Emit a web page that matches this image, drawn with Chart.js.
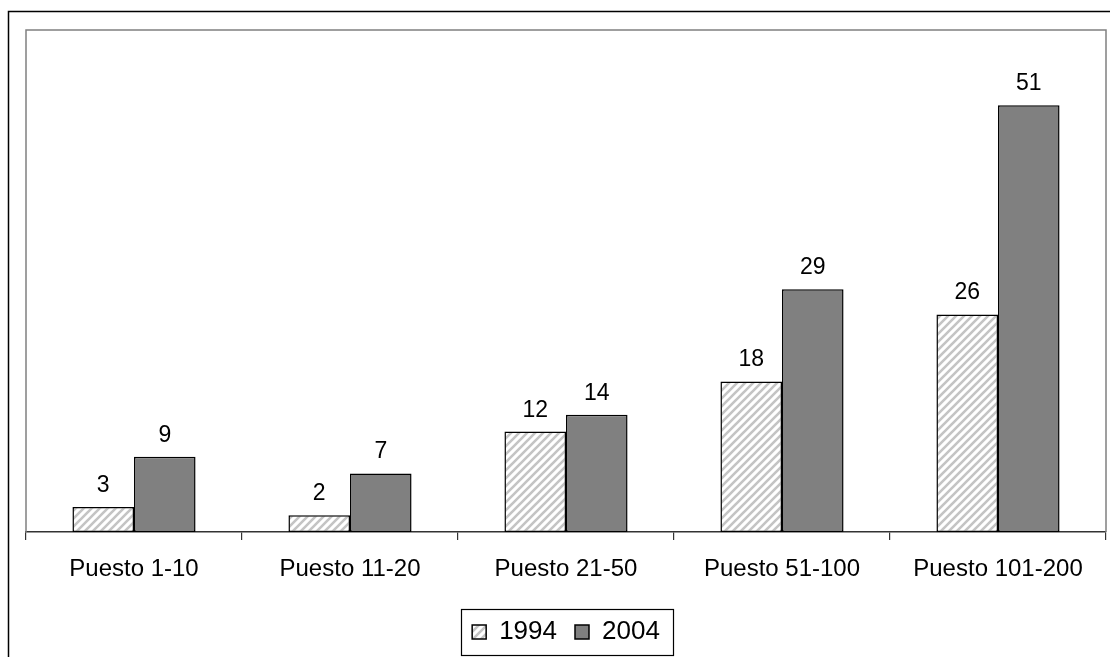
<!DOCTYPE html>
<html>
<head>
<meta charset="utf-8">
<script src="https://cdn.jsdelivr.net/npm/chart.js@4/dist/chart.umd.min.js"></script>
<style>
  html, body { margin: 0; padding: 0; background: #fff; }
  #c { display: block; }
</style>
</head>
<body>
<canvas id="c" width="1110" height="657"></canvas>
<script>
// --- datos ---
const categorias = ['Puesto 1-10', 'Puesto 11-20', 'Puesto 21-50', 'Puesto 51-100', 'Puesto 101-200'];
const valores1994 = [3, 2, 12, 18, 26];
const valores2004 = [9, 7, 14, 29, 51];
const series = ['1994', '2004'];
const yMax = 60;

// trama rayada para la serie 1994
function hatchPattern() {
    const tile = document.createElement('canvas');
    tile.width = 8;
    tile.height = 8;
    const t = tile.getContext('2d');
    t.fillStyle = '#ffffff';
    t.fillRect(0, 0, 8, 8);
    t.strokeStyle = '#c4c4c4';
    t.lineWidth = 2.6;
    t.beginPath();
    t.moveTo(-2, 10); t.lineTo(10, -2);
    t.moveTo(-6, 6); t.lineTo(6, -6);
    t.moveTo(2, 14); t.lineTo(14, 2);
    t.stroke();
    return t.createPattern(tile, 'repeat');
}

// marcos, etiquetas de valor y recuadro de la leyenda
const decoPlugin = {
    id: 'deco',
    beforeDraw(chart) {
        const ctx = chart.ctx;
        ctx.save();
        ctx.fillStyle = '#fff';
        ctx.fillRect(0, 0, chart.width, chart.height);
        ctx.restore();
    },
    afterDraw(chart) {
        const ctx = chart.ctx;
        const a = chart.chartArea;
        ctx.save();

        // marco exterior
        ctx.strokeStyle = '#000';
        ctx.lineWidth = 1.5;
        ctx.beginPath();
        ctx.moveTo(8.5, chart.height);
        ctx.lineTo(8.5, 11.5);
        ctx.lineTo(chart.width, 11.5);
        ctx.stroke();

        // borde del area de trazado
        ctx.strokeStyle = '#808080';
        ctx.lineWidth = 1.5;
        ctx.beginPath();
        ctx.moveTo(a.left, a.bottom);
        ctx.lineTo(a.left, a.top);
        ctx.lineTo(a.right, a.top);
        ctx.lineTo(a.right, a.bottom);
        ctx.stroke();

        // valores encima de las barras
        ctx.fillStyle = '#000';
        ctx.font = '23px Arial, "Liberation Sans", sans-serif';
        ctx.textAlign = 'center';
        ctx.textBaseline = 'alphabetic';
        chart.data.datasets.forEach((ds, i) => {
            chart.getDatasetMeta(i).data.forEach((bar, j) => {
                ctx.fillText(String(ds.data[j]), bar.x, bar.y - 15);
            });
        });

        // recuadro de la leyenda
        const lg = chart.legend;
        if (lg && lg.legendHitBoxes && lg.legendHitBoxes.length) {
            const hb = lg.legendHitBoxes;
            const first = hb[0];
            const last = hb[hb.length - 1];
            const cy = first.top + first.height / 2;
            const x0 = Math.round(first.left - 11) + 0.5;
            const x1 = Math.round(last.left + last.width + 13) + 0.5;
            ctx.strokeStyle = '#000';
            ctx.lineWidth = 1.2;
            ctx.strokeRect(x0, Math.round(cy - 23) + 0.5, x1 - x0, 46);
        }
        ctx.restore();
    }
};

const ctx = document.getElementById('c');
new Chart(ctx, {
    type: 'bar',
    data: {
        labels: categorias,
        datasets: [{
            label: series[0],
            data: valores1994,
            backgroundColor: hatchPattern(),
            borderColor: '#000',
            borderWidth: 1.5,
            borderSkipped: false
        }, {
            label: series[1],
            data: valores2004,
            backgroundColor: '#808080',
            borderColor: '#000',
            borderWidth: 1.5,
            borderSkipped: false
        }]
    },
    options: {
        responsive: false,
        animation: false,
        devicePixelRatio: 1,
        layout: { padding: { left: 26, right: 4, top: 30, bottom: 2 } },
        datasets: { bar: { categoryPercentage: 0.57, barPercentage: 1 } },
        scales: {
            x: {
                grid: {
                    display: true,
                    offset: true,
                    drawOnChartArea: false,
                    tickLength: 8,
                    color: '#333',
                    lineWidth: 1.2
                },
                border: { display: true, color: '#333', width: 1.5 },
                ticks: {
                    color: '#000',
                    padding: 15,
                    maxRotation: 0,
                    font: { family: 'Arial, "Liberation Sans", sans-serif', size: 24 }
                },
                afterFit(scale) { scale.height = 69; }
            },
            y: {
                display: false,
                min: 0,
                max: yMax
            }
        },
        plugins: {
            legend: {
                position: 'bottom',
                labels: {
                    color: '#000',
                    boxWidth: 14,
                    boxHeight: 14,
                    padding: 18,
                    font: { family: 'Arial, "Liberation Sans", sans-serif', size: 26 }
                }
            },
            tooltip: { enabled: false }
        }
    },
    plugins: [decoPlugin]
});
</script>
</body>
</html>
